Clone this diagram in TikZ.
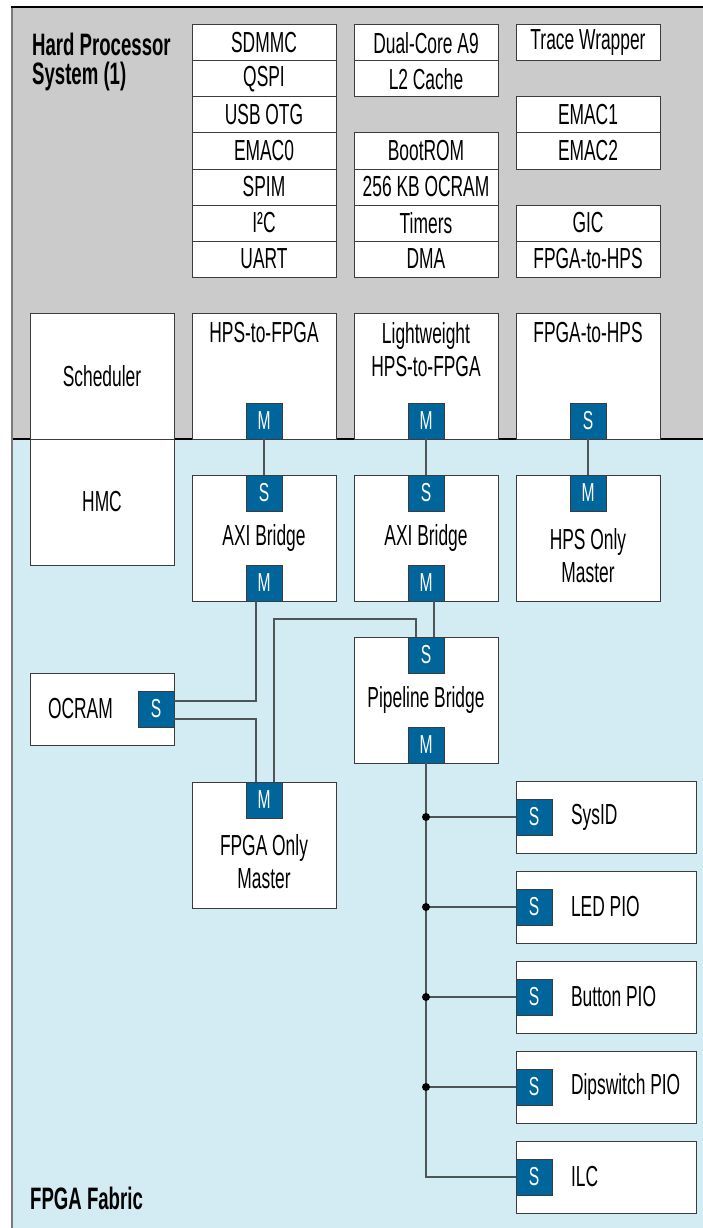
\documentclass[tikz,border=0pt]{standalone}
\usepackage{fontspec}
\setmainfont{Liberation Sans}[FakeStretch=0.6]
\usepackage{tikz}
\usetikzlibrary{positioning}

\definecolor{hpsgray}{HTML}{CBCBCB}
\definecolor{fabricblue}{HTML}{D3ECF3}
\definecolor{portblue}{HTML}{00659A}
\definecolor{boxline}{HTML}{3C3C3C}
\definecolor{wiregray}{HTML}{4D5559}
\definecolor{framegray}{HTML}{7A7A7A}

\newcommand\diagfont{\fontsize{29}{33}\selectfont}
\newcommand\portfont{\fontsize{26}{26}\selectfont}
\newcommand\regionfont{\fontsize{31}{29}\selectfont\bfseries}

\begin{document}
\begin{tikzpicture}[
    x=1pt, y=-1pt,
    cell/.style={draw=boxline, fill=white, line width=1pt, minimum width=144pt, minimum height=36pt, inner sep=0pt, outer sep=0pt, font=\diagfont},
    bigbox/.style={cell, minimum height=126pt, align=center},
    perbox/.style={cell, minimum width=180pt, minimum height=72pt, text width=170pt, inner xsep=5pt, align=flush left, execute at begin node=\hspace*{50pt}},
    boxtext/.style={anchor=north, inner sep=0pt, font=\diagfont, align=center},
    port/.style={draw=boxline, fill=portblue, line width=1pt, minimum size=36pt, inner sep=0pt, outer sep=0pt, text=white, font=\portfont},
    wire/.style={draw=wiregray, line width=1.3pt},
    region/.style={inner sep=0pt, font=\regionfont, align=flush left}
]
\useasboundingbox (0,0) rectangle (703,1228);
\fill[hpsgray] (12,7) rectangle (703,439);
\fill[fabricblue] (12,439) rectangle (703,1228);
\draw[line width=1.3pt] (12,439) -- (703,439);
\draw[framegray, line width=2pt] (12,7) -- (12,1228);
\draw[line width=1.3pt] (11,7) -- (703,7);

\node[region, anchor=north west] (hpstitle) at (32,33) {Hard Processor\\System (1)};
\node[region, anchor=west] (fabrictitle) at (30,1198) {FPGA Fabric};

% HPS peripherals
\node[cell] (sdmmc) at (264,43) {SDMMC};
\node[cell, below=0pt of sdmmc] (qspi) {QSPI};
\node[cell, below=0pt of qspi] (usb) {USB OTG};
\node[cell, below=0pt of usb] (emac0) {EMAC0};
\node[cell, below=0pt of emac0] (spim) {SPIM};
\node[cell, below=0pt of spim] (i2c) {I²C};
\node[cell, below=0pt of i2c] (uart) {UART};
\node[cell] (a9) at (426,43) {Dual-Core A9};
\node[cell, below=0pt of a9] (l2) {L2 Cache};
\node[cell] (bootrom) at (426,151) {BootROM};
\node[cell, below=0pt of bootrom] (hpsocram) {256 KB OCRAM};
\node[cell, below=0pt of hpsocram] (timers) {Timers};
\node[cell, below=0pt of timers] (dma) {DMA};
\node[cell] (trace) at (588,43) {Trace Wrapper};
\node[cell] (emac1) at (588,115) {EMAC1};
\node[cell, below=0pt of emac1] (emac2) {EMAC2};
\node[cell] (gic) at (588,223) {GIC};
\node[cell, below=0pt of gic] (f2hirq) {FPGA-to-HPS};

% bridges
\node[bigbox] (sched) at (102,376) {Scheduler};
\node[bigbox, below=0pt of sched] (hmc) {HMC};
\node[bigbox, label={[boxtext, yshift=-9pt]north:HPS-to-FPGA}] (h2f) at (264,376) {};
\node[bigbox, label={[boxtext, yshift=-9pt]north:Lightweight\\HPS-to-FPGA}] (lw) at (426,376) {};
\node[bigbox, label={[boxtext, yshift=-9pt]north:FPGA-to-HPS}] (f2h) at (588,376) {};
\node[port, anchor=south] (h2fm) at (h2f.south) {M};
\node[port, anchor=south] (lwm) at (lw.south) {M};
\node[port, anchor=south] (f2hs) at (f2h.south) {S};

\node[bigbox] (axi1) at (264,538) {AXI Bridge};
\node[bigbox] (axi2) at (426,538) {AXI Bridge};
\node[bigbox, label={[boxtext, anchor=center, yshift=-18pt]center:HPS Only\\Master}] (hpsonly) at (588,538) {};
\node[port, anchor=north] (axi1s) at (axi1.north) {S};
\node[port, anchor=south] (axi1m) at (axi1.south) {M};
\node[port, anchor=north] (axi2s) at (axi2.north) {S};
\node[port, anchor=south] (axi2m) at (axi2.south) {M};
\node[port, anchor=north] (hpsm) at (hpsonly.north) {M};

% fabric
\node[cell, minimum height=72pt, text width=134pt, inner xsep=5pt, align=flush left] (ocram) at (102,709) {\hspace*{13pt}OCRAM};
\node[port, anchor=east] (ocs) at (ocram.east) {S};
\node[bigbox] (pipe) at (426,700) {Pipeline Bridge};
\node[port, anchor=north] (pbs) at (pipe.north) {S};
\node[port, anchor=south] (pbm) at (pipe.south) {M};
\node[bigbox, label={[boxtext, anchor=center, yshift=-17pt]center:FPGA Only\\Master}] (fpgaonly) at (264,845) {};
\node[port, anchor=north] (fom) at (fpgaonly.north) {M};

\foreach \name/\txt [count=\i] in {sysid/SysID, led/LED PIO, button/Button PIO, dip/Dipswitch PIO, ilc/ILC} {
    \node[perbox] (\name) at (606,727+90*\i) {\txt};
    \node[port, anchor=west] (\name-s) at (\name.west) {S};
}

\draw[wire] (h2fm) -- (axi1s);
\draw[wire] (lwm) -- (axi2s);
\draw[wire] (f2hs) -- (hpsm);
\draw[wire] ([xshift=-8pt]axi1m.south) |- ([yshift=8pt]ocs.east);
\draw[wire] ([yshift=-10pt]ocs.east) -| ([xshift=-8pt]fom.north);
\draw[wire] ([xshift=10pt]fom.north) |- ([xshift=-10pt, yshift=18pt]pbs.north) -- ([xshift=-10pt]pbs.north);
\draw[wire] ([xshift=8pt]axi2m.south) -- ([xshift=8pt]pbs.north);
\draw[wire] (pbm.south) |- (ilc-s.west);
\foreach \name in {sysid, led, button, dip} {
    \draw[wire] (pbm.south |- \name-s.west) -- (\name-s.west);
    \fill (pbm.south |- \name-s.west) circle (4pt);
}
\end{tikzpicture}
\end{document}
